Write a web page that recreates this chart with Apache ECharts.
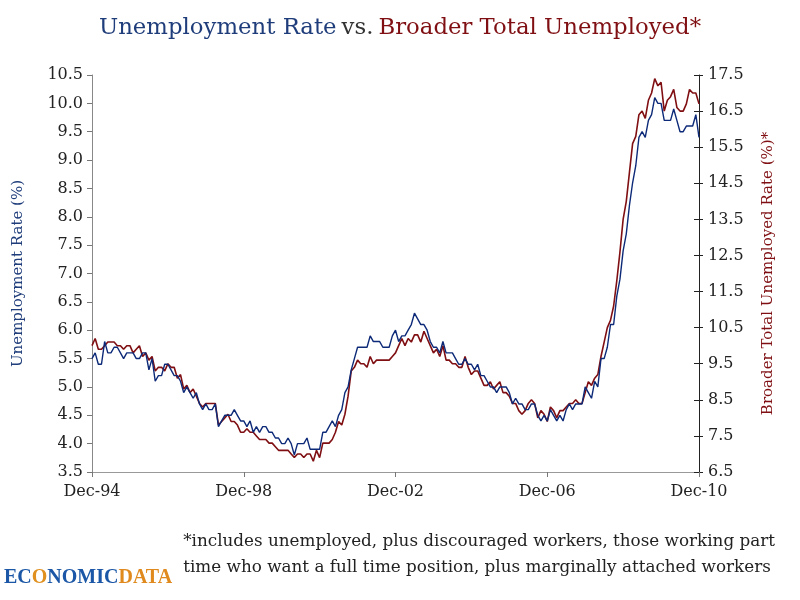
<!DOCTYPE html>
<html>
<head>
<meta charset="utf-8">
<script src="https://cdn.jsdelivr.net/npm/echarts@6/dist/echarts.min.js"></script>
<style>
    html, body { margin: 0; padding: 0; background: #fff; }
    #chart { width: 800px; height: 600px; }
</style>
</head>
<body>
<div id="chart"></div>
<script>
// monthly, Dec-94 .. Dec-10
const monthNames = ['Jan', 'Feb', 'Mar', 'Apr', 'May', 'Jun', 'Jul', 'Aug', 'Sep', 'Oct', 'Nov', 'Dec'];
const startYear = 1994, startMonth = 11, monthCount = 193;

// U-3, left axis
const unemploymentRate = [
    5.5,
    5.6, 5.4, 5.4, 5.8, 5.6, 5.6, 5.7, 5.7, 5.6, 5.5, 5.6, 5.6,
    5.6, 5.5, 5.5, 5.6, 5.6, 5.3, 5.5, 5.1, 5.2, 5.2, 5.4, 5.4,
    5.3, 5.2, 5.2, 5.1, 4.9, 5.0, 4.9, 4.8, 4.9, 4.7, 4.6, 4.7,
    4.6, 4.6, 4.7, 4.3, 4.4, 4.5, 4.5, 4.5, 4.6, 4.5, 4.4, 4.4,
    4.3, 4.4, 4.2, 4.3, 4.2, 4.3, 4.3, 4.2, 4.2, 4.1, 4.1, 4.0,
    4.0, 4.1, 4.0, 3.8, 4.0, 4.0, 4.0, 4.1, 3.9, 3.9, 3.9, 3.9,
    4.2, 4.2, 4.3, 4.4, 4.3, 4.5, 4.6, 4.9, 5.0, 5.3, 5.5, 5.7,
    5.7, 5.7, 5.7, 5.9, 5.8, 5.8, 5.8, 5.7, 5.7, 5.7, 5.9, 6.0,
    5.8, 5.9, 5.9, 6.0, 6.1, 6.3, 6.2, 6.1, 6.1, 6.0, 5.8, 5.7,
    5.7, 5.6, 5.8, 5.6, 5.6, 5.6, 5.5, 5.4, 5.4, 5.5, 5.4, 5.4,
    5.3, 5.4, 5.2, 5.2, 5.1, 5.0, 5.0, 4.9, 5.0, 5.0, 5.0, 4.9,
    4.7, 4.8, 4.7, 4.7, 4.6, 4.6, 4.7, 4.7, 4.5, 4.4, 4.5, 4.4,
    4.6, 4.5, 4.4, 4.5, 4.4, 4.6, 4.7, 4.6, 4.7, 4.7, 4.7, 5.0,
    4.9, 4.8, 5.1, 5.0, 5.5, 5.5, 5.7, 6.1, 6.1, 6.6, 6.9, 7.4,
    7.7, 8.2, 8.6, 8.9, 9.4, 9.5, 9.4, 9.7, 9.8, 10.1, 10.0, 10.0,
    9.7, 9.7, 9.7, 9.9, 9.7, 9.5, 9.5, 9.6, 9.6, 9.6, 9.8, 9.4
];

// U-6, right axis
const broaderRate = [
    10.0,
    10.2, 9.9, 9.9, 10.0, 10.1, 10.1, 10.1, 10.0, 10.0, 9.9, 10.0, 10.0,
    9.8, 9.9, 10.0, 9.7, 9.8, 9.6, 9.7, 9.3, 9.4, 9.4, 9.3, 9.5,
    9.4, 9.4, 9.1, 9.2, 8.8, 8.9, 8.7, 8.8, 8.6, 8.4, 8.3, 8.4,
    8.4, 8.4, 8.4, 7.8, 7.9, 8.0, 8.1, 7.9, 7.9, 7.8, 7.6, 7.6,
    7.7, 7.6, 7.6, 7.5, 7.4, 7.4, 7.4, 7.3, 7.3, 7.2, 7.1, 7.1,
    7.1, 7.1, 7.0, 6.9, 7.0, 7.0, 6.9, 7.0, 7.0, 6.8, 7.1, 6.9,
    7.3, 7.3, 7.3, 7.4, 7.6, 7.9, 7.8, 8.1, 8.6, 9.3, 9.4, 9.6,
    9.5, 9.5, 9.4, 9.7, 9.5, 9.6, 9.6, 9.6, 9.6, 9.6, 9.7, 9.8,
    10.0, 10.2, 10.0, 10.2, 10.1, 10.3, 10.3, 10.1, 10.4, 10.2, 10.0, 9.8,
    9.9, 9.7, 10.0, 9.6, 9.6, 9.5, 9.5, 9.4, 9.4, 9.7, 9.4, 9.2,
    9.3, 9.3, 9.1, 8.9, 8.9, 9.0, 8.8, 8.9, 9.0, 8.7, 8.7, 8.6,
    8.4, 8.4, 8.2, 8.1, 8.2, 8.4, 8.5, 8.4, 8.0, 8.2, 8.1, 7.9,
    8.3, 8.2, 8.0, 8.2, 8.2, 8.3, 8.4, 8.4, 8.5, 8.4, 8.4, 8.7,
    9.0, 8.9, 9.1, 9.2, 9.7, 10.1, 10.5, 10.7, 11.1, 11.8, 12.6, 13.5,
    14.0, 14.8, 15.6, 15.8, 16.4, 16.5, 16.3, 16.8, 17.0, 17.4, 17.2, 17.3,
    16.5, 16.8, 16.9, 17.1, 16.6, 16.5, 16.5, 16.7, 17.1, 17.0, 17.0, 16.7
];

const months = [];
for (let i = 0; i < monthCount; i++) {
    let m = (startMonth + i) % 12;
    let y = startYear + Math.floor((startMonth + i) / 12);
    months.push(monthNames[m] + '-' + String(y).slice(2));
}

const footnoteLines = [
    '*includes unemployed, plus discouraged workers, those working part',
    'time who want a full time position, plus marginally attached workers'
];

const serif = 'DejaVu Serif';
const blue = '#1f3d7a';
const maroon = '#7f0f12';

let chart = echarts.init(document.getElementById('chart'));
chart.setOption({
    animation: false,
    title: {
        left: 'center',
        top: 12,
        text: '{b|Unemployment Rate} {k|vs.} {r|Broader Total Unemployed*}',
        textStyle: {
            rich: {
                b: { color: blue, fontFamily: serif, fontSize: 22.8, fontWeight: 'normal' },
                k: { color: '#333', fontFamily: serif, fontSize: 22.8, fontWeight: 'normal' },
                r: { color: maroon, fontFamily: serif, fontSize: 22.8, fontWeight: 'normal' }
            }
        }
    },
    grid: { left: 92, right: 101, top: 75, bottom: 128 },
    xAxis: {
        type: 'category',
        data: months,
        boundaryGap: false,
        axisLine: { lineStyle: { color: '#999' } },
        axisTick: { interval: 47, length: 5, lineStyle: { color: '#777' } },
        axisLabel: { interval: 47, margin: 12, color: '#222', fontFamily: serif, fontSize: 16 }
    },
    yAxis: [
        {
            type: 'value',
            min: 3.5, max: 10.5, interval: 0.5,
            splitLine: { show: false },
            axisLine: { show: true, lineStyle: { color: '#888' } },
            axisTick: { show: true, length: 5, lineStyle: { color: '#777' } },
            axisLabel: { color: '#222', fontFamily: serif, fontSize: 16, margin: 9,
                formatter: (v) => v.toFixed(1) },
            name: 'Unemployment Rate (%)',
            nameLocation: 'middle',
            nameRotate: 90,
            nameGap: 66,
            nameTextStyle: { color: blue, fontFamily: serif, fontSize: 15 }
        },
        {
            type: 'value',
            position: 'right',
            min: 6.5, max: 17.5, interval: 1,
            splitLine: { show: false },
            axisLine: { show: true, lineStyle: { color: '#222' } },
            axisTick: { show: true, length: 4, lineStyle: { color: '#222' } },
            axisLabel: { color: '#222', fontFamily: serif, fontSize: 16, margin: 9,
                formatter: (v) => v.toFixed(1) },
            name: 'Broader Total Unemployed Rate (%)*',
            nameLocation: 'middle',
            nameRotate: 90,
            nameGap: 62,
            nameTextStyle: { color: maroon, fontFamily: serif, fontSize: 15 }
        },
        {
            // inner half of the right-axis ticks
            type: 'value',
            position: 'right',
            min: 6.5, max: 17.5, interval: 1,
            splitLine: { show: false },
            axisLine: { show: false },
            axisTick: { show: true, inside: true, length: 5, lineStyle: { color: '#222' } },
            axisLabel: { show: false }
        }
    ],
    series: [
        {
            name: 'Broader Total Unemployed',
            type: 'line',
            yAxisIndex: 1,
            data: broaderRate,
            symbol: 'none',
            lineStyle: { color: maroon, width: 1.6 },
            z: 2
        },
        {
            name: 'Unemployment Rate',
            type: 'line',
            yAxisIndex: 0,
            data: unemploymentRate,
            symbol: 'none',
            lineStyle: { color: '#0d2a78', width: 1.4 },
            z: 3
        }
    ],
    graphic: [
        {
            type: 'text',
            right: 25,
            top: 529,
            style: {
                text: footnoteLines.join('\n'),
                fill: '#222',
                font: '16.8px "DejaVu Serif"',
                lineHeight: 26,
                align: 'right'
            }
        },
        {
            type: 'text',
            left: 4,
            top: 568,
            style: {
                text: '{e|EC}{o|O}{e|NOMIC}{d|DATA}',
                rich: {
                    e: { fill: '#1b57a6', font: 'bold 20px "Liberation Serif"' },
                    o: { fill: '#e0901f', font: 'bold 20px "Liberation Serif"' },
                    d: { fill: '#e08a1e', font: 'bold 20px "Liberation Serif"' }
                }
            }
        }
    ]
});
</script>
</body>
</html>
